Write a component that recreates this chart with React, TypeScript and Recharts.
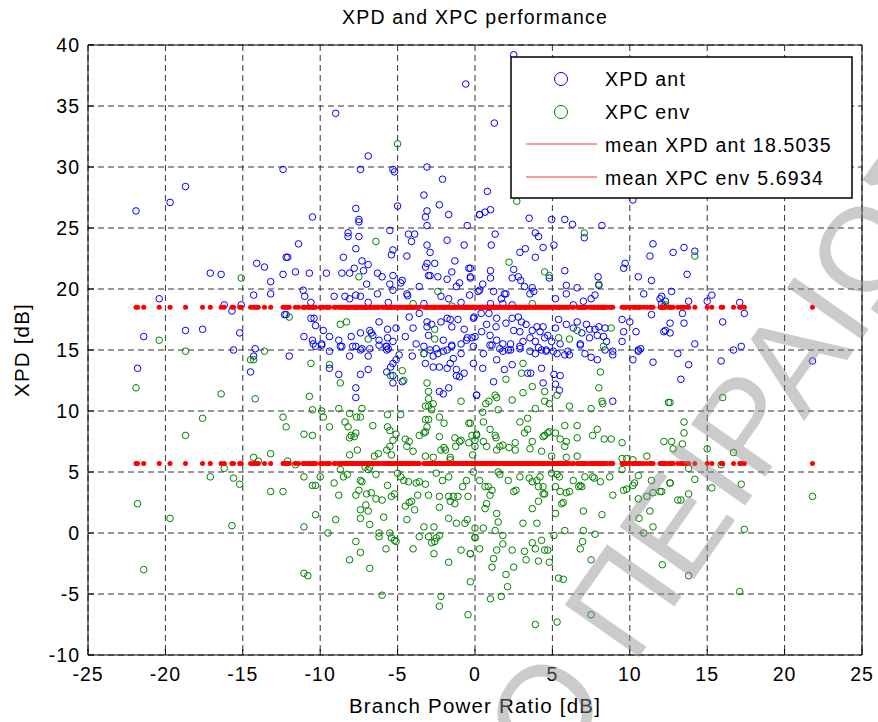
import React from 'react';
import { ScatterChart, Scatter, XAxis, YAxis, CartesianGrid, ReferenceArea } from 'recharts';

const TITLE = 'XPD and XPC performance';
const X_LABEL = 'Branch Power Ratio [dB]';
const Y_LABEL = 'XPD [dB]';
const X_TICKS = [-25, -20, -15, -10, -5, 0, 5, 10, 15, 20, 25];
const Y_TICKS = [-10, -5, 0, 5, 10, 15, 20, 25, 30, 35, 40];
const MEAN_XPD_ANT = 18.5035;
const MEAN_XPC_ENV = 5.6934;
const LEGEND_LABELS = ['XPD ant', 'XPC env', 'mean XPD ant 18.5035', 'mean XPC env 5.6934'];

// [branch power ratio, XPD]
const XPD_ANT: [number, number][] = [
  [-12.4, 29.8], [-18.7, 28.4], [-19.7, 27.1], [-21.9, 26.4], [-12.2, 22.6], [-14.1, 22.1], [-13.6, 21.8], [-17.1, 21.3],
  [-16.4, 21.2], [-12.4, 21.2], [-13.2, 20.6], [-13.2, 19.6], [-14.3, 19.5], [-20.4, 19.2], [-16.2, 18.7], [-15.1, 18.7],
  [-15.7, 18.2], [-12.3, 17.9], [-21.4, 16.1], [-18.7, 16.6], [-17.6, 16.7], [-15.2, 16.4], [-15.6, 15.0], [-14.2, 15.1],
  [-21.8, 13.5], [-14.3, 14.5], [-14.5, 13.2],
  [-0.6, 36.8], [-9.0, 34.4], [-6.9, 30.9], [-7.4, 29.8], [-5.3, 29.8], [-5.2, 29.6], [-3.1, 30.0], [-2.1, 29.0],
  [-3.3, 27.7], [-2.3, 26.9], [-7.7, 26.6], [-3.1, 26.4], [-5.0, 26.8], [-10.5, 25.9], [-7.5, 25.7], [-7.5, 25.5],
  [-3.2, 25.9], [-1.7, 26.1], [-3.1, 25.2], [-0.5, 25.2], [0.3, 26.1], [-5.5, 24.8], [-8.2, 24.6], [-8.2, 24.3],
  [-7.5, 24.3], [-4.3, 24.5], [-3.9, 24.5], [-4.1, 23.9], [-11.4, 23.7], [-7.7, 23.3], [-1.8, 24.0], [-3.1, 23.6],
  [-0.7, 23.6], [-5.3, 23.2], [-5.4, 22.8], [-2.9, 23.0], [-4.4, 22.7], [-12.1, 22.6], [-8.5, 22.6], [-1.3, 22.3],
  [-7.3, 22.3], [-6.9, 22.0], [-3.1, 22.1], [-2.6, 22.1], [-3.2, 21.8], [-7.8, 21.7], [-0.4, 21.7], [-11.6, 21.4],
  [-10.7, 21.3], [-9.6, 21.3], [-8.6, 21.3], [-8.1, 21.3], [-7.2, 21.5], [-6.3, 21.3], [-6.0, 21.0], [-5.3, 21.1],
  [-3.0, 21.1], [-2.9, 21.1], [-2.4, 21.0], [-1.5, 21.4], [-0.3, 21.0], [-7.0, 20.4], [-5.5, 20.4], [-4.8, 20.5],
  [-4.7, 20.7], [-3.6, 20.2], [-1.8, 20.8], [-1.2, 20.2], [-1.0, 20.5], [-11.1, 19.9], [-11.0, 19.4], [-5.3, 19.9],
  [-4.4, 19.6], [-4.35, 19.45], [-9.1, 19.4], [-8.4, 19.4], [-8.1, 19.2], [-7.7, 19.5], [-7.4, 19.4], [-6.3, 19.6],
  [-10.6, 18.9], [-2.2, 19.4], [-1.7, 19.2], [-6.9, 18.9], [-5.6, 18.9], [-3.3, 18.8], [-0.9, 18.9], [-0.35, 19.5],
  [0.3, 19.9],
  [-12.2, 17.9], [-10.6, 17.6], [-10.4, 17.6], [-10.3, 17.0], [-11.05, 16.1], [-9.8, 16.6], [-10.5, 15.8], [-10.3, 15.3],
  [-9.9, 15.5], [-9.4, 16.1], [-8.0, 16.1], [-8.8, 15.8], [-7.4, 16.4], [-6.8, 16.6], [-6.7, 16.4], [-6.6, 16.2],
  [-6.2, 17.3], [-6.2, 15.8], [-5.65, 16.7], [-5.65, 16.0], [-5.3, 15.7], [-5.1, 16.8], [-4.25, 17.7], [-4.0, 16.8],
  [-4.5, 16.1], [-3.6, 18.0], [-3.1, 17.3], [-3.1, 16.9], [-3.0, 16.2], [-2.8, 17.1], [-2.2, 17.3], [-1.8, 17.6],
  [-1.6, 17.5], [-1.5, 16.9], [-1.1, 17.5], [-0.7, 16.7], [-0.5, 16.0], [-0.2, 16.0], [-0.1, 17.6], [-2.05, 15.8],
  [-1.5, 15.3], [-7.9, 15.3], [-7.3, 15.1], [-8.6, 15.3], [-5.7, 15.3], [-5.6, 15.1], [-3.3, 15.3], [-2.9, 15.0],
  [-2.5, 15.1], [-0.9, 15.5], [-0.55, 15.8], [-9.4, 14.9],
  [-12.0, 14.5], [-10.45, 15.5], [-9.9, 15.4], [-8.7, 15.3], [-8.1, 14.5], [-7.7, 15.3], [-7.4, 15.0], [-6.9, 14.5],
  [-6.8, 15.1], [-6.2, 15.4], [-5.7, 15.0], [-5.75, 15.3], [-4.9, 14.6], [-5.1, 14.2], [-5.3, 13.9], [-5.45, 13.6],
  [-5.7, 13.2], [-5.3, 12.9], [-4.7, 12.4], [-5.3, 12.3], [-4.05, 14.5], [-3.8, 15.5], [-3.3, 14.7], [-2.7, 14.5],
  [-2.4, 14.7], [-2.05, 14.9], [-1.8, 15.0], [-1.5, 15.4], [-3.2, 13.9], [-2.7, 13.6], [-2.3, 13.6], [-1.8, 13.5],
  [-1.6, 13.9], [-1.4, 14.3], [-1.2, 13.4], [-0.9, 14.7], [-1.2, 12.9], [-0.7, 13.1], [-1.0, 12.8], [-2.3, 11.6],
  [-1.7, 11.9], [-2.05, 11.4], [-8.8, 13.0], [-9.4, 13.5], [-7.4, 13.0], [-6.9, 13.4], [-7.7, 11.9], [-7.7, 11.1],
  [0.1, 11.3], [-0.1, 13.9],
  [2.5, 39.2], [1.25, 33.6], [0.8, 28.0], [10.2, 27.3], [1.0, 26.5], [0.65, 26.3], [0.3, 26.1], [3.5, 25.8],
  [4.95, 25.7], [5.8, 25.7], [6.3, 25.3], [8.2, 25.2], [7.06, 24.2], [1.3, 24.5], [1.05, 23.6], [3.9, 24.6],
  [4.1, 24.3], [4.4, 23.4], [5.1, 23.6], [3.25, 23.3], [2.9, 23.0], [3.9, 22.6], [11.5, 23.7], [11.3, 22.7],
  [2.5, 21.6], [2.4, 20.9], [2.8, 21.0], [2.95, 20.7], [1.0, 21.5], [1.0, 20.9], [-0.3, 21.7], [-0.3, 20.9],
  [4.8, 20.9], [5.8, 21.5], [5.9, 20.3], [6.6, 20.1], [7.95, 21.0], [8.0, 20.3], [9.7, 22.1], [9.6, 21.7],
  [10.55, 21.0], [11.4, 20.7], [10.9, 19.6], [12.06, 19.4], [12.3, 19.0], [0.5, 20.4], [0.2, 19.8], [1.2, 19.8],
  [1.9, 19.6], [1.7, 19.2], [2.0, 19.6], [3.2, 20.2], [3.7, 20.1], [3.55, 19.6], [3.8, 19.8], [5.2, 19.2],
  [5.9, 19.6], [6.35, 18.7], [7.0, 19.0], [7.5, 19.2], [7.75, 19.5], [2.4, 18.7], [1.8, 18.8], [1.0, 18.8],
  [-0.06, 17.7], [0.4, 18.0], [0.9, 18.0], [1.4, 17.6], [2.0, 17.2], [1.36, 16.9], [0.75, 17.1], [0.43, 16.5],
  [0.0, 16.1], [0.97, 16.2], [1.4, 15.8], [1.8, 15.5], [1.1, 15.4], [1.6, 15.1], [2.15, 15.0], [2.4, 17.6],
  [2.8, 17.7], [3.0, 17.3], [3.3, 17.1], [3.7, 16.6], [4.0, 16.9], [4.2, 16.5], [4.4, 16.9], [4.7, 16.2],
  [4.5, 16.0], [4.95, 15.7], [3.55, 16.0], [3.9, 15.7], [3.1, 15.7], [2.9, 16.5], [2.5, 16.6], [5.4, 17.5],
  [5.9, 17.1], [6.35, 16.8], [6.6, 17.3], [6.9, 16.4], [7.2, 17.1], [7.4, 16.7], [7.75, 16.7], [8.0, 16.9],
  [8.3, 16.1], [8.4, 16.8], [5.5, 15.5], [6.8, 15.5], [7.4, 16.0], [7.9, 16.2], [8.5, 15.7], [9.5, 17.5],
  [9.6, 16.5], [10.0, 17.3], [10.4, 16.5], [10.7, 15.1], [11.4, 17.9], [12.2, 16.5], [5.2, 16.8], [6.0, 14.9],
  [8.9, 14.9], [10.55, 14.9], [2.3, 15.5], [2.9, 15.1], [3.55, 14.9], [4.1, 15.2], [4.6, 15.0], [5.06, 14.9],
  [12.8, 23.0], [13.5, 23.4], [14.2, 23.1], [13.7, 21.2], [12.7, 19.8], [13.8, 19.0], [15.0, 19.0], [15.3, 19.5],
  [17.1, 18.9], [11.95, 19.2], [12.06, 18.8], [13.4, 18.0], [12.6, 17.2], [13.5, 17.2], [12.3, 16.6], [12.6, 16.4],
  [16.0, 17.3], [17.4, 18.0], [14.2, 15.5], [16.7, 15.0], [17.2, 15.3], [13.1, 14.7], [13.8, 13.8], [13.3, 12.6],
  [15.9, 14.1], [21.8, 14.1],
  [-0.1, 15.3], [0.54, 14.7], [0.97, 15.4], [1.8, 14.9], [2.3, 15.0], [2.9, 15.3], [3.9, 14.7], [4.3, 15.0],
  [4.6, 14.9], [5.3, 14.7], [5.8, 14.6], [6.1, 14.6], [6.8, 15.4], [7.1, 14.7], [7.5, 14.4], [7.9, 14.2],
  [8.4, 15.0], [8.9, 14.6], [9.5, 15.7], [10.2, 14.2], [10.55, 15.0], [11.5, 14.0], [0.5, 13.5], [1.4, 14.2],
  [1.9, 13.4], [2.4, 13.8], [3.4, 13.1], [3.6, 13.1], [4.3, 13.5], [4.4, 12.3], [5.1, 13.0], [5.5, 12.9],
  [5.2, 12.2], [5.45, 11.7], [1.2, 12.4], [0.1, 11.3], [8.9, 10.8],
];

// [branch power ratio, XPC]
const XPC_ENV: [number, number][] = [
  [-15.1, 20.9], [-20.4, 15.8], [-18.7, 14.9], [-13.6, 14.9], [-14.5, 14.2], [-14.3, 14.2], [-21.9, 11.9], [-16.4, 11.4],
  [-14.2, 11.0], [-17.6, 9.4], [-12.4, 9.5], [-12.2, 8.7], [-18.7, 8.0], [-13.2, 6.5], [-14.3, 6.2], [-14.0, 5.9],
  [-16.2, 5.3], [-17.1, 4.6], [-15.6, 4.5], [-15.2, 4.0], [-13.2, 3.4], [-12.4, 3.4], [-21.8, 2.4], [-19.7, 1.2],
  [-15.7, 0.6], [-21.4, -3.0],
  [-5.0, 31.9], [-6.4, 23.9], [-7.5, 21.0], [-2.4, 19.8], [-4.0, 18.8], [-1.5, 18.6], [-12.0, 17.7], [-8.7, 17.1],
  [-8.3, 17.3], [-6.9, 15.9], [-2.6, 16.7], [-2.6, 15.9], [-3.3, 14.7],
  [-10.6, 13.9], [-9.4, 13.8], [-8.7, 12.3], [-5.45, 12.9], [-4.6, 12.5], [-4.7, 13.3], [-3.1, 12.3], [-3.0, 11.6],
  [-10.7, 11.2], [-0.9, 10.8], [-10.5, 10.1], [-9.9, 10.0], [-8.8, 10.2], [-9.8, 9.5], [-9.4, 8.7], [-8.1, 9.8],
  [-7.65, 9.5], [-7.3, 10.2], [-7.4, 9.5], [-8.4, 9.1], [-8.2, 8.7], [-8.0, 8.0], [-7.7, 8.2], [-8.1, 7.8],
  [-7.8, 7.9], [-11.05, 8.1], [-10.5, 8.0], [-6.6, 8.8], [-5.65, 9.7], [-5.65, 8.7], [-5.5, 8.4], [-5.1, 8.1],
  [-4.8, 9.7], [-5.3, 7.6], [-5.5, 7.1], [-5.7, 6.8], [-5.4, 6.4], [-7.6, 6.8], [-8.1, 6.4], [-6.25, 6.5],
  [-6.5, 6.3], [-4.5, 7.7], [-4.4, 7.1], [-4.0, 6.7], [-4.25, 7.5], [-3.6, 8.0], [-3.2, 8.3], [-3.3, 8.2],
  [-3.2, 10.4], [-3.0, 10.4], [-2.8, 10.1], [-2.7, 10.6], [-3.0, 11.0], [-3.2, 9.3], [-3.0, 9.3], [-3.1, 8.7],
  [-2.3, 9.5], [-2.0, 9.0], [-2.3, 7.9], [-2.0, 7.0], [-2.2, 6.8], [-1.9, 6.8], [-1.6, 6.0], [-1.3, 7.8],
  [-1.0, 7.5], [-1.25, 7.1], [-0.9, 7.6], [-0.4, 9.0], [-0.2, 8.0], [-0.4, 7.4], [0.1, 8.0], [0.0, 7.1],
  [-0.15, 6.4], [-3.2, 6.3], [-2.7, 6.2], [-1.6, 6.2], [-12.1, 5.9], [-11.6, 5.6],
  [-11.05, 4.6], [-10.5, 3.9], [-10.3, 3.9], [-10.0, 4.6], [-8.7, 5.2], [-8.5, 4.6], [-8.25, 4.8], [-9.1, 4.1],
  [-8.8, 3.1], [-7.7, 3.1], [-7.4, 4.3], [-7.3, 4.2], [-7.5, 3.5], [-7.1, 5.4], [-6.9, 5.2], [-6.4, 4.8],
  [-6.8, 5.4], [-7.0, 3.2], [-6.7, 3.3], [-6.4, 2.8], [-6.0, 2.7], [-5.65, 3.9], [-5.2, 3.2], [-5.4, 3.0],
  [-7.4, 1.9], [-7.05, 2.3], [-6.9, 1.8], [-7.4, 1.2], [-5.9, 1.3], [-6.8, 0.7], [-5.0, 4.9], [-4.8, 4.6],
  [-4.6, 4.3], [-4.3, 4.2], [-3.8, 4.1], [-3.6, 4.2], [-4.25, 2.5], [-4.1, 2.6], [-3.9, 1.9], [-4.5, 2.2],
  [-4.4, 1.1], [-3.7, 3.1], [-3.2, 4.0], [-3.0, 3.1], [-2.5, 4.9], [-2.1, 4.3], [-2.3, 3.0], [-2.3, 2.1],
  [-1.7, 3.0], [-1.7, 4.6], [-1.6, 2.6], [-1.4, 3.0], [-1.3, 2.4], [-1.1, 3.0], [-0.8, 3.8], [-0.55, 4.3],
  [-0.45, 3.0], [-10.3, 1.5], [-9.0, 1.1], [-11.05, 0.5], [-9.5, 0.0], [-3.3, 0.5], [-2.65, 0.5], [-3.0, -0.3],
  [-3.6, -0.3], [-2.5, -0.4], [-2.3, -0.2], [-2.6, -0.7], [-1.7, 1.2], [-1.2, 0.8], [-0.65, 0.8], [-0.5, 1.1],
  [0.0, -0.4], [0.0, 0.4], [-7.7, -0.7], [-7.4, -1.6], [-8.1, -2.2], [-6.8, -2.9], [-6.2, 0.0], [-6.2, -0.3],
  [-5.5, 0.0], [-5.4, -0.4], [-5.2, -0.6], [-5.1, -0.7], [-5.75, -1.3], [-4.0, -1.3], [-2.8, -0.8], [-2.65, -1.7],
  [-1.7, -2.4], [-0.9, -1.4], [-0.3, -1.7], [-11.05, -3.3], [-10.8, -3.5], [-0.3, -4.0], [-6.0, -5.1], [-2.2, -5.2],
  [-2.3, -6.0], [-0.45, -6.7],
  [2.7, 27.2], [7.06, 24.6], [2.2, 22.2], [4.5, 21.4], [4.8, 21.1], [8.0, 20.4], [12.3, 18.7], [3.7, 18.8],
  [5.4, 16.0], [6.1, 15.9], [6.6, 16.6], [8.3, 15.3], [8.8, 16.8], [14.2, 22.7], [12.2, 18.6],
  [12.6, 10.7], [16.0, 11.1], [13.5, 9.1], [13.5, 8.2], [12.7, 7.5], [12.8, 6.9], [13.4, 7.3], [15.0, 6.9],
  [16.7, 6.6], [13.8, 5.3], [15.9, 5.6], [14.2, 4.4], [12.6, 4.1], [15.3, 3.7], [17.2, 4.0], [13.8, 3.2],
  [13.1, 2.7], [13.3, 2.7], [11.95, 3.4], [21.8, 3.0], [17.4, 0.3], [12.1, -2.6], [13.8, -3.5], [17.1, -4.8],
  [8.1, 13.2], [8.0, 11.9], [8.25, 10.6], [8.2, 10.8], [7.5, 10.2], [6.1, 10.4], [3.1, 13.9], [3.0, 13.1],
  [2.0, 12.6], [3.1, 11.5], [3.7, 12.0], [2.4, 10.9], [4.5, 11.6], [4.5, 10.8], [4.8, 10.6], [5.3, 11.3],
  [1.3, 11.3], [1.4, 11.1], [0.7, 10.6], [0.9, 10.8], [1.5, 10.1], [3.9, 10.2],
  [0.5, 9.9], [0.54, 9.1], [0.97, 8.5], [1.3, 8.0], [1.36, 7.8], [0.1, 8.1], [0.0, 7.6], [0.54, 7.5],
  [-0.3, 9.0], [0.75, 7.1], [1.6, 7.1], [1.8, 7.2], [2.6, 7.4], [2.2, 7.0], [2.6, 6.8], [1.4, 6.8],
  [3.55, 6.9], [3.7, 7.5], [3.2, 8.2], [3.4, 8.5], [2.9, 9.1], [3.4, 9.4], [4.4, 7.9], [4.3, 6.7],
  [4.7, 8.2], [4.8, 8.3], [4.5, 8.0], [5.2, 8.2], [5.5, 7.7], [5.8, 8.8], [5.9, 7.5], [6.6, 8.8],
  [6.6, 7.8], [5.8, 7.1], [4.95, 6.3], [5.9, 6.2], [6.6, 6.3], [7.9, 8.5], [7.6, 8.0], [8.35, 7.7],
  [8.8, 7.7], [9.5, 7.4], [9.5, 6.1], [9.8, 6.1], [10.2, 6.0], [11.1, 6.3], [12.2, 7.5], [12.5, 10.7],
  [-0.1, 5.0], [0.3, 4.3], [0.65, 3.8], [0.86, 3.8], [0.97, 3.1], [0.75, 2.4], [0.65, 2.0], [1.1, 3.5],
  [1.5, 5.0], [1.6, 4.8], [2.15, 4.3], [2.5, 3.4], [2.65, 3.5], [2.9, 4.6], [3.5, 4.5], [3.7, 4.2],
  [4.0, 4.3], [4.1, 3.8], [4.4, 3.8], [4.5, 3.2], [4.4, 3.2], [4.1, 2.6], [3.7, 2.0], [4.2, 4.6],
  [4.95, 4.9], [5.3, 4.8], [5.45, 4.6], [5.2, 3.8], [5.5, 3.4], [5.7, 2.5], [5.6, 2.4], [5.9, 3.3],
  [6.1, 3.4], [6.35, 4.3], [6.7, 3.8], [6.8, 3.9], [6.9, 3.8], [7.1, 4.6], [7.6, 4.6], [7.7, 4.5],
  [8.1, 4.2], [8.7, 4.6], [9.5, 5.2], [8.9, 3.1], [9.6, 3.5], [9.8, 3.6], [10.2, 3.9], [10.55, 4.7],
  [10.3, 4.1], [11.1, 3.0], [11.5, 3.3], [12.06, 3.4], [11.4, 4.3], [12.6, 4.1], [10.55, 2.8], [11.3, 1.8],
  [10.6, 1.2], [10.9, 0.0], [11.5, 0.5], [8.2, 1.5], [7.0, 1.8], [5.2, 1.6],
  [0.0, -0.35], [0.54, 0.4], [0.3, -1.3], [-0.3, -1.7], [1.4, 1.6], [1.5, 0.9], [1.3, 0.2], [1.8, -0.2],
  [1.8, -0.9], [1.4, -1.4], [1.2, -2.1], [1.1, -2.8], [2.0, -3.4], [2.1, -4.4], [1.7, -5.2], [1.0, -5.4],
  [2.5, -2.8], [2.4, -1.4], [3.1, 0.8], [3.2, -1.5], [3.3, -2.2], [3.7, -0.8], [3.9, -1.3], [4.0, 0.8],
  [4.1, -2.3], [4.3, -0.6], [4.5, -1.4], [4.7, -1.4], [4.8, -2.4], [5.1, -0.2], [5.8, 0.2], [7.0, 0.2],
  [6.95, -0.7], [6.8, -1.3], [7.75, -0.1], [7.5, -2.2], [5.4, -3.7], [5.7, -3.8], [5.3, -7.3], [3.9, -7.5],
  [7.5, -6.7],
];

const FONT = '"Liberation Sans", Arial, Helvetica, sans-serif';
const W = 878;
const H = 722;

const toPoints = (arr: [number, number][]) => arr.map(([x, y]) => ({ x, y }));
const MEAN_X = Array.from(new Set([...XPD_ANT, ...XPC_ENV].map((p) => p[0])));

const ring = (color: string) => (props: any) => (
  <circle cx={props.cx} cy={props.cy} r={3.3} fill="none" stroke={color} strokeWidth={1} />
);
const dot = (props: any) => <circle cx={props.cx} cy={props.cy} r={2.5} fill="#ff0000" />;

export default function App() {
  const tickStyle = { fill: '#000', fontSize: 19.5, fontFamily: FONT, letterSpacing: 1 };
  const legendText = { fontSize: 19.5, fontFamily: FONT, letterSpacing: 1.2, fill: '#000' };
  return (
    <div style={{ position: 'absolute', left: 0, top: 0, width: W, height: H, background: '#fff', overflow: 'hidden' }}>
      <ScatterChart width={W} height={H} margin={{ top: 45, right: 16, bottom: 0, left: 0 }}>
        <CartesianGrid strokeDasharray="6 4" stroke="#333" strokeWidth={1} />
        <XAxis
          type="number"
          dataKey="x"
          domain={[-25, 25]}
          ticks={X_TICKS}
          interval={0}
          height={67}
          tickSize={-6}
          tickMargin={18}
          axisLine={false}
          tickLine={{ stroke: '#000' }}
          tick={tickStyle}
          allowDataOverflow
        />
        <YAxis
          type="number"
          dataKey="y"
          domain={[-10, 40]}
          ticks={Y_TICKS}
          interval={0}
          width={88}
          tickSize={-6}
          tickMargin={14}
          axisLine={false}
          tickLine={{ stroke: '#000' }}
          tick={tickStyle}
          allowDataOverflow
        />
        <ReferenceArea x1={-25} x2={25} y1={-10} y2={40} fill="none" stroke="#000" strokeWidth={1} />
        <Scatter data={toPoints(XPD_ANT)} shape={ring('#0000ff')} isAnimationActive={false} />
        <Scatter data={toPoints(XPC_ENV)} shape={ring('#008000')} isAnimationActive={false} />
        <Scatter data={MEAN_X.map((x) => ({ x, y: MEAN_XPD_ANT }))} shape={dot} isAnimationActive={false} />
        <Scatter data={MEAN_X.map((x) => ({ x, y: MEAN_XPC_ENV }))} shape={dot} isAnimationActive={false} />
      </ScatterChart>

      <svg width={W} height={H} style={{ position: 'absolute', left: 0, top: 0, pointerEvents: 'none' }}>
        <text x={475} y={24} textAnchor="middle" style={legendText}>{TITLE}</text>
        <text x={475} y={713} textAnchor="middle" style={{ ...legendText, fontSize: 20.5 }}>{X_LABEL}</text>
        <text x={29} y={350} textAnchor="middle" transform="rotate(-90 29 350)" style={{ ...legendText, fontSize: 20.5 }}>{Y_LABEL}</text>

        {/* legend */}
        <rect x={511} y={57} width={341} height={141} fill="#fff" stroke="#000" strokeWidth={1.5} />
        <circle cx={561} cy={79} r={6.5} fill="none" stroke="#0000ff" strokeWidth={1} />
        <circle cx={561} cy={112} r={6.5} fill="none" stroke="#008000" strokeWidth={1} />
        <line x1={526} x2={597} y1={144} y2={144} stroke="#ff3030" strokeWidth={1} />
        <line x1={526} x2={597} y1={177} y2={177} stroke="#ff3030" strokeWidth={1} />
        {LEGEND_LABELS.map((t, i) => (
          <text key={t} x={605} y={86 + i * 33} style={legendText}>{t}</text>
        ))}

        {/* watermark */}
        <text
          x={469}
          y={900}
          transform="rotate(-55 469 900)"
          style={{ fontSize: 132, fontFamily: FONT, fill: 'rgba(140,140,140,0.45)' }}
        >
          ΜΙΟ ΠΕΙΡΑΙΩΣ
        </text>
      </svg>
    </div>
  );
}
